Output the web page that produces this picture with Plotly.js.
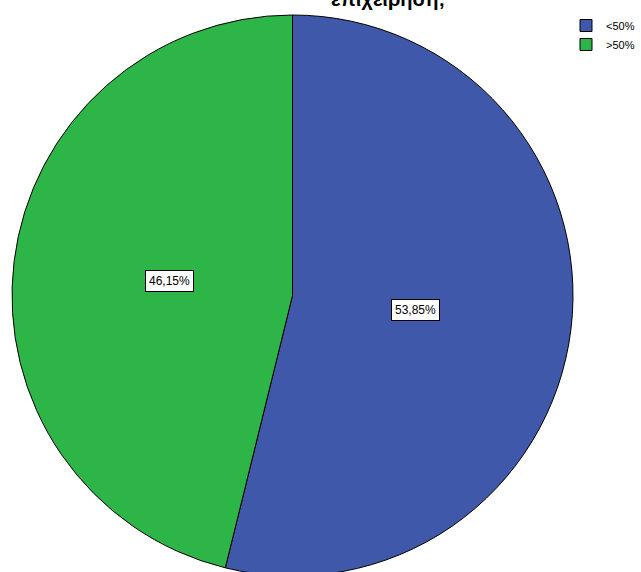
<!DOCTYPE html>
<html>
<head>
<meta charset="utf-8">
<script src="https://cdn.plot.ly/plotly-3.0.1.min.js"></script>
<style>
html, body { margin: 0; padding: 0; overflow: hidden; background: #fff; }
#chart { width: 641px; height: 600px; }
</style>
</head>
<body>
<div id="chart"></div>
<script>
const categories = ['<50%', '>50%'];
const values = [53.85, 46.15];
const valueLabels = ['53,85%', '46,15%'];
const sliceColors = ['#3f58aa', '#2eb547'];
const titleText = 'επιχείρηση;';

const W = 641, H = 600;
const cx = 292.5, cy = 295.5, R = 280.5;

const total = values.reduce((a, b) => a + b, 0);
const annotations = [];
let cum = 0;
values.forEach((v, i) => {
  const mid = (cum + v / 2) / total * 2 * Math.PI;
  cum += v;
  const r = 0.44 * R;
  const px = cx + r * Math.sin(mid);
  const py = cy - r * Math.cos(mid);
  annotations.push({
    x: px / W, y: 1 - py / H, xref: 'paper', yref: 'paper',
    text: valueLabels[i], showarrow: false,
    font: { family: 'Liberation Sans, Arial, sans-serif', size: 12, color: '#000' },
    bgcolor: '#ffffff', bordercolor: '#000000', borderwidth: 1, borderpad: 3,
    xanchor: 'center', yanchor: 'middle'
  });
});
annotations.push({
  x: 388 / W, y: 1 + 1 / H, xref: 'paper', yref: 'paper',
  text: '<b>' + titleText + '</b>', showarrow: false,
  font: { family: 'Liberation Sans, Arial, sans-serif', size: 20, color: '#000' },
  xanchor: 'center', yanchor: 'middle'
});

const data = [{
  type: 'pie',
  labels: categories,
  values: values,
  sort: false,
  direction: 'clockwise',
  rotation: 0,
  textinfo: 'none',
  hoverinfo: 'label+percent',
  marker: { colors: sliceColors, line: { color: '#000000', width: 1 } },
  domain: { x: [(cx - R) / W, (cx + R) / W], y: [(H - cy - R) / H, (H - cy + R) / H] }
}];

const layout = {
  width: W, height: H,
  margin: { l: 0, r: 0, t: 0, b: 0, autoexpand: false },
  paper_bgcolor: '#ffffff',
  showlegend: true,
  legend: {
    x: 566 / W, y: 1 - 11 / H, xanchor: 'left', yanchor: 'top',
    font: { family: 'Liberation Sans, Arial, sans-serif', size: 11, color: '#000' },
    bgcolor: 'rgba(0,0,0,0)', itemwidth: 30, tracegroupgap: 0
  },
  annotations: annotations
};

Plotly.newPlot('chart', data, layout, { displayModeBar: false, staticPlot: true });
</script>
</body>
</html>
